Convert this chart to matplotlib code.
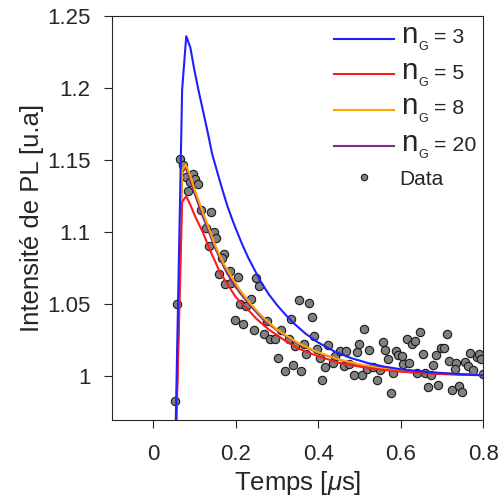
import matplotlib
matplotlib.use("Agg")
import matplotlib.pyplot as plt
from matplotlib.lines import Line2D

plt.rcParams['font.family'] = ['Liberation Sans', 'DejaVu Sans']
plt.rcParams['mathtext.fontset'] = 'custom'
plt.rcParams['mathtext.rm'] = 'Liberation Sans'
plt.rcParams['mathtext.it'] = 'Liberation Sans:italic'

# ---- model curves ----
t_g3 = [0.05, 0.070, 0.080, 0.090, 0.10, 0.11, 0.12, 0.13, 0.143, 0.155, 0.167, 0.18,
        0.19, 0.20, 0.215, 0.23, 0.24, 0.26, 0.28, 0.30, 0.32, 0.34, 0.37, 0.40, 0.44,
        0.48, 0.52, 0.56, 0.60, 0.66, 0.73, 0.80]
y_g3 = [0.90, 1.199, 1.236, 1.228, 1.212, 1.198, 1.185, 1.172, 1.154, 1.142, 1.130, 1.118,
        1.110, 1.1025, 1.092, 1.0825, 1.077, 1.066, 1.057, 1.0495, 1.043, 1.037, 1.0295, 1.0235, 1.0172,
        1.0127, 1.0093, 1.0068, 1.0050, 1.0032, 1.0018, 1.0008]

t_g5 = [0.05, 0.070, 0.080, 0.09, 0.10, 0.12, 0.14, 0.163, 0.18, 0.20, 0.2355, 0.25,
        0.28, 0.316, 0.35, 0.40, 0.45, 0.50, 0.55, 0.60, 0.66, 0.73, 0.80]
y_g5 = [0.90, 1.121, 1.125, 1.119, 1.112, 1.100, 1.086, 1.0715, 1.064, 1.055, 1.0445, 1.040,
        1.0325, 1.0255, 1.0195, 1.014, 1.0095, 1.0068, 1.0048, 1.0033, 1.0021, 1.0013, 1.0008]

t_g8 = [0.05, 0.070, 0.079, 0.09, 0.10, 0.12, 0.131, 0.15, 0.171, 0.19, 0.21, 0.2355,
        0.268, 0.30, 0.316, 0.35, 0.397, 0.45, 0.50, 0.55, 0.60, 0.66, 0.73, 0.80]
y_g8 = [0.90, 1.143, 1.147, 1.139, 1.130, 1.114, 1.106, 1.091, 1.078, 1.069, 1.060, 1.0505,
        1.0405, 1.0325, 1.0296, 1.0233, 1.017, 1.0118, 1.0084, 1.0058, 1.0043, 1.0028, 1.0017, 1.0011]

t_g20 = [0.05, 0.070, 0.078, 0.09, 0.10, 0.12, 0.131, 0.15, 0.171, 0.19, 0.21, 0.2355,
         0.268, 0.30, 0.316, 0.35, 0.397, 0.45, 0.50, 0.55, 0.60, 0.66, 0.73, 0.80]
y_g20 = [0.90, 1.141, 1.145, 1.136, 1.127, 1.111, 1.103, 1.089, 1.076, 1.066, 1.058, 1.049,
         1.039, 1.032, 1.029, 1.023, 1.0167, 1.0116, 1.0079, 1.0055, 1.0040, 1.0026, 1.0016, 1.0010]

# ---- measured data ----
t_data = [0.0515, 0.0581, 0.0644, 0.0716, 0.0782, 0.0958, 0.0886, 0.1023, 0.1096, 0.0837,
          0.1161, 0.1403, 0.1273, 0.1466, 0.1532, 0.1345, 0.1725, 0.1660, 0.1597, 0.1853,
          0.2047, 0.2499, 0.2555, 0.1749, 0.1887, 0.2112, 0.2240, 0.2371, 0.1974, 0.2178,
          0.2434, 0.3523, 0.3775, 0.3339, 0.3837, 0.2758, 0.2676, 0.2821, 0.2959, 0.3104,
          0.3281, 0.3903, 0.3443, 0.3644, 0.3709, 0.3968, 0.4031, 0.4225, 0.4169, 0.4355,
          0.4411, 0.4515, 0.4660, 0.4936, 0.4999, 0.5120, 0.5234, 0.3024, 0.3201, 0.3387,
          0.3588, 0.4089, 0.4612, 0.4733, 0.4871, 0.5057, 0.5178, 0.5338, 0.5500, 0.5434,
          0.5565, 0.5621, 0.5701, 0.5887, 0.5942, 0.6025, 0.6146, 0.6281, 0.6339, 0.6467,
          0.6063, 0.6208, 0.5821, 0.5766, 0.6528, 0.6789, 0.6855, 0.6963, 0.7048, 0.7109,
          0.7174, 0.7339, 0.7302, 0.7556, 0.7677, 0.7624, 0.7750, 0.7847, 0.7907, 0.7943,
          0.7999, 0.6388, 0.6588, 0.6721, 0.6661, 0.6910, 0.7234, 0.7418, 0.7484]
y_data = [0.9833, 1.0505, 1.1505, 1.1465, 1.1384, 1.1403, 1.1347, 1.1366, 1.1333, 1.1283,
          1.1153, 1.1139, 1.1033, 1.1005, 1.0963, 1.0903, 1.0852, 1.0824, 1.0708, 1.0731,
          1.0692, 1.0685, 1.0630, 1.0639, 1.0648, 1.0505, 1.0486, 1.0538, 1.0389, 1.0361,
          1.0324, 1.0533, 1.0512, 1.0401, 1.0412, 1.0384, 1.0297, 1.0257, 1.0262, 1.0324,
          1.0262, 1.0283, 1.0208, 1.0222, 1.0153, 1.0192, 1.0130, 1.0215, 1.0065, 1.0092,
          1.0139, 1.0174, 1.0174, 1.0169, 1.0222, 1.0331, 1.0181, 1.0130, 1.0037, 1.0076,
          1.0037, 0.9972, 1.0069, 1.0088, 1.0012, 1.0012, 1.0049, 1.0065, 1.0042, 0.9977,
          1.0238, 1.0184, 1.0122, 1.0179, 1.0146, 1.0142, 1.0258, 1.0222, 1.0248, 1.0306,
          1.0088, 1.0095, 1.0021, 0.9887, 1.0158, 1.0076, 1.0146, 1.0194, 1.0194, 1.0297,
          1.0109, 1.0092, 1.0053, 1.0102, 1.0162, 1.0073, 1.0042, 1.0132, 1.0153, 1.0123,
          1.0019, 1.0023, 1.0023, 1.0010, 0.9924, 0.9938, 0.9908, 0.9931, 0.9891]

x_ticks = [0, 0.2, 0.4, 0.6, 0.8]
x_ticklabels = ['0', '0.2', '0.4', '0.6', '0.8']
y_ticks = [1, 1.05, 1.1, 1.15, 1.2, 1.25]
y_ticklabels = ['1', '1.05', '1.1', '1.15', '1.2', '1.25']

legend_values = ['3', '5', '8', '20']

TXT = '#262626'
C3, C5, C8, C20 = '#1f1fff', '#ff1a1a', '#ffa500', '#7e2f8e'
MFC, MEC = '#808080', '#1a1a1a'
LW = 1.5

W, H = 498, 501
fig = plt.figure(figsize=(W / 100, H / 100), dpi=100)
ax = fig.add_axes([112 / W, 1 - 419.7 / H, 371.3 / W, 403.7 / H])

ax.scatter(t_data, y_data, s=36, c=MFC, edgecolors=MEC, linewidths=0.8, zorder=2)
l3, = ax.plot(t_g3, y_g3, color=C3, lw=LW, zorder=6)
l5, = ax.plot(t_g5, y_g5, color=C5, lw=LW, zorder=5)
l20, = ax.plot(t_g20, y_g20, color=C20, lw=LW, zorder=3)
l8, = ax.plot(t_g8, y_g8, color=C8, lw=LW, zorder=4)

ax.set_xlim(-0.1, 0.8)
ax.set_ylim(0.97, 1.25)
ax.set_xticks(x_ticks)
ax.set_xticklabels(x_ticklabels)
ax.set_yticks(y_ticks)
ax.set_yticklabels(y_ticklabels)
ax.tick_params(direction='out', length=5.5, width=0.8, color=TXT, labelsize=16,
               labelcolor=TXT)
ax.tick_params(axis='x', pad=12)
ax.tick_params(axis='y', pad=10)
for s in ax.spines.values():
    s.set_color(TXT)
    s.set_linewidth(0.8)

ax.set_xlabel(r'Temps [$\mathit{\mu}$s]', fontsize=18.5, color=TXT, labelpad=3)
ax.set_ylabel('Intensité de PL [u.a]', fontsize=18.5, color=TXT, labelpad=2)

# ---- legend drawn by hand (large "n", small subscript G) ----
def fx(x):
    return x / W

def fy(y):
    return 1 - y / H

line_ys = [38.5, 74, 109.5, 146]
base_ys = [43, 79, 114.5, 151]
for val, col, ly, by in zip(legend_values, [C3, C5, C8, C20], line_ys, base_ys):
    fig.add_artist(Line2D([fx(334), fx(394)], [fy(ly), fy(ly)], transform=fig.transFigure,
                          color=col, lw=LW))
    fig.text(fx(401.3), fy(by), 'n', fontsize=21.3, color=TXT, va='baseline', ha='left')
    fig.text(fx(418.0), fy(by + 7.0), 'G', fontsize=9.0, color=TXT, va='baseline', ha='left')
    fig.text(fx(433.5), fy(by), '= ' + val, fontsize=15.4, color=TXT, va='baseline', ha='left')

fig.add_artist(Line2D([fx(363.5)], [fy(177)], transform=fig.transFigure, ls='none',
                      marker='o', markersize=4.6, markerfacecolor=MFC, markeredgecolor=MEC,
                      markeredgewidth=0.8))
fig.text(fx(399.5), fy(185), 'Data', fontsize=15, color=TXT, va='baseline', ha='left')

fig.savefig('out.png', dpi=100)
